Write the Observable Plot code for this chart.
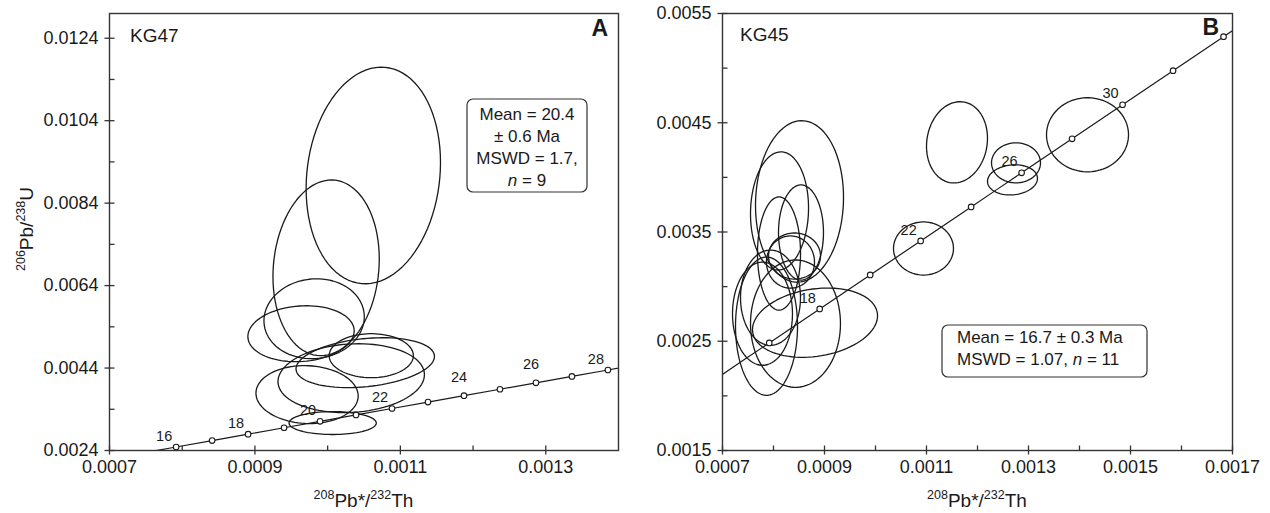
<!DOCTYPE html>
<html>
<head>
<meta charset="utf-8">
<script src="https://cdn.jsdelivr.net/npm/d3@7"></script>
<script src="https://cdn.jsdelivr.net/npm/@observablehq/plot@0.6"></script>
<style>
  html, body { margin: 0; padding: 0; background: #fff; }
  #wrap { display: flex; width: 1270px; height: 513px; }
  svg { display: block; }
</style>
</head>
<body>
<div id="wrap"></div>
<script>
// ---------- Concordia (Th–Pb vs U–Pb) reference points, ages in Ma ----------
const concAge = [14, 15, 16, 17, 18, 19, 20, 21, 22, 23, 24, 25, 26, 27, 28, 29, 30, 31, 32, 33, 34, 35];
const concTh  = [0.00069268, 0.00074216, 0.00079163, 0.00084111, 0.00089059, 0.00094007, 0.00098955,
                 0.00103904, 0.00108852, 0.00113800, 0.00118749, 0.00123698, 0.00128647, 0.00133596,
                 0.00138545, 0.00143494, 0.00148444, 0.00153393, 0.00158343, 0.00163293, 0.00168243, 0.00173193];
const concU   = [0.0021741, 0.0023296, 0.0024851, 0.0026406, 0.0027962, 0.0029517, 0.0031073, 0.0032629,
                 0.0034186, 0.0035742, 0.0037299, 0.0038856, 0.0040414, 0.0041971, 0.0043529, 0.0045087,
                 0.0046646, 0.0048204, 0.0049763, 0.0051322, 0.0052882, 0.0054441];

// Panel A (KG47) markers and labels
const aMarkerAges = [16, 17, 18, 19, 20, 21, 22, 23, 24, 25, 26, 27, 28];
const aLabelAges  = [16, 18, 20, 22, 28];
const aLabelAgesHigh = [24, 26];
// Panel B (KG45) markers and labels
const bMarkerAges = [16, 18, 20, 22, 24, 26, 28, 30, 32, 34];
const bLabelAges  = [18, 22, 26, 30];

// ---------- Error ellipses, panel A (KG47): centre, half-extent in x / y, correlation ----------
const aCx  = [0.0010628, 0.0009979, 0.0009814, 0.0009634, 0.0010600, 0.0010517, 0.0010324, 0.0009717, 0.0010069];
const aCy  = [0.009071,  0.006831,  0.005596,  0.005233,  0.004700,  0.004531,  0.004155,  0.003756,  0.003066];
const aSx  = [0.0000924, 0.0000731, 0.0000690, 0.0000731, 0.0000579, 0.0000952, 0.0001007, 0.0000703, 0.0000600];
const aSy  = [0.002627,  0.002131,  0.000969,  0.000678,  0.000533,  0.000605,  0.000835,  0.000702,  0.000278];
const aRho = [0.12, 0.10, 0.05, 0.10, 0.0, 0.25, 0.10, -0.05, 0.0];

// ---------- Error ellipses, panel B (KG45) ----------
const bCx  = [0.0008510, 0.0008118, 0.0008539, 0.0008108, 0.0008412, 0.0008333, 0.0007941, 0.0007863,
              0.0008431, 0.0008814, 0.0007784, 0.0011598, 0.0010941, 0.0012755, 0.0012686, 0.0014157];
const bCy  = [0.003780,  0.003693,  0.003495,  0.003303,  0.003280,  0.003225,  0.002899,  0.002638,
              0.002661,  0.002670,  0.002752,  0.004321,  0.003349,  0.004133,  0.003977,  0.004390];
const bSx  = [0.0000863, 0.0000569, 0.0000441, 0.0000422, 0.0000510, 0.0000471, 0.0000588, 0.0000608,
              0.0000882, 0.0001226, 0.0000588, 0.0000598, 0.0000588, 0.0000480, 0.0000490, 0.0000804];
const bSy  = [0.000739,  0.000541,  0.000436,  0.000518,  0.000211,  0.000239,  0.000436,  0.000633,
              0.000583,  0.000317,  0.000472,  0.000372,  0.000243,  0.000183,  0.000138,  0.000339];
const bRho = [0.05, 0.05, 0.0, 0.0, 0.0, 0.0, 0.0, 0.0, 0.0, 0.2, 0.0, 0.1, 0.0, 0.0, 0.1, 0.0];

// ---------- Axis ticks ----------
const aXMajor = [0.0007, 0.0009, 0.0011, 0.0013];
const aXMinor = [0.0008, 0.0010, 0.0012];
const aYMajor = [0.0024, 0.0044, 0.0064, 0.0084, 0.0104, 0.0124];
const aYMinor = [0.0034, 0.0054, 0.0074, 0.0094, 0.0114];
const bXMajor = [0.0007, 0.0009, 0.0011, 0.0013, 0.0015, 0.0017];
const bXMinor = [0.0008, 0.0010, 0.0012, 0.0014, 0.0016];
const bYMajor = [0.0015, 0.0025, 0.0035, 0.0045, 0.0055];
const bYMinor = [0.0020, 0.0030, 0.0040, 0.0050];

// ---------- Text ----------
const sampleA = "KG47", sampleB = "KG45";
const panelA = "A", panelB = "B";
const statsA = ["Mean = 20.4", "± 0.6 Ma", "MSWD = 1.7,", "n = 9"];
const statsB = ["Mean = 16.7 ± 0.3 Ma", "MSWD = 1.07, n = 11"];

// ---------- helpers ----------
const FONT = "'Liberation Sans', Arial, Helvetica, sans-serif";
const INK = "#1a1a1a";
const concRows = concAge.map((t, i) => ({t, x: concTh[i], y: concU[i]}));

function ellipseRows(cx, cy, sx, sy, rho) {
  const rows = [];
  const N = 90;
  cx.forEach((c, k) => {
    const s = Math.sqrt(1 - rho[k] * rho[k]);
    for (let j = 0; j < N; j++) {
      const th = (2 * Math.PI * j) / N;
      rows.push({id: k, x: c + sx[k] * Math.cos(th),
                 y: cy[k] + sy[k] * (rho[k] * Math.cos(th) + s * Math.sin(th))});
    }
  });
  return rows;
}

const tickCrossV = {draw(ctx) { ctx.moveTo(0, -5); ctx.lineTo(0, 4); }};
const tickInV    = {draw(ctx) { ctx.moveTo(0, 0);  ctx.lineTo(0, -5); }};
const tickCrossH = {draw(ctx) { ctx.moveTo(-5, 0); ctx.lineTo(5, 0); }};
const tickInH    = {draw(ctx) { ctx.moveTo(0, 0);  ctx.lineTo(5, 0); }};

function panel({width, marginLeft, marginRight, xDomain, yDomain, xMaj, xMin, yMaj, yMin,
                ell, markers, labels, labelsHigh}) {
  const fmt = d3.format(".4f");
  return Plot.plot({
    width, height: 513,
    marginLeft, marginRight, marginTop: 13, marginBottom: 63,
    style: {fontFamily: FONT, fontSize: "18px", color: INK, background: "white"},
    x: {domain: xDomain, axis: null},
    y: {domain: yDomain, axis: null},
    marks: [
      Plot.line(ell, {x: "x", y: "y", z: "id", curve: "linear-closed", stroke: INK, strokeWidth: 1.3, clip: true}),
      Plot.line(concRows, {x: "x", y: "y", stroke: INK, strokeWidth: 1.2, clip: true}),
      Plot.dot(concRows.filter(d => markers.includes(d.t)), {x: "x", y: "y", r: 2.8, fill: "white", stroke: INK, strokeWidth: 1.1}),
      Plot.text(concRows.filter(d => labels.includes(d.t)), {x: "x", y: "y", text: d => String(d.t), dx: -12, dy: -11, fontSize: 14.5, fill: INK}),
      Plot.text(concRows.filter(d => labelsHigh.includes(d.t)), {x: "x", y: "y", text: d => String(d.t), dx: -5, dy: -18, fontSize: 14.5, fill: INK}),
      Plot.frame({stroke: "#333", strokeWidth: 1.4}),
      Plot.dot(xMaj, {x: d => d, frameAnchor: "bottom", symbol: tickCrossV, stroke: "#333", strokeWidth: 1.3, fill: "none"}),
      Plot.dot(xMin, {x: d => d, frameAnchor: "bottom", symbol: tickInV, stroke: "#333", strokeWidth: 1.3, fill: "none"}),
      Plot.dot(yMaj, {y: d => d, frameAnchor: "left", symbol: tickCrossH, stroke: "#333", strokeWidth: 1.3, fill: "none"}),
      Plot.dot(yMin, {y: d => d, frameAnchor: "left", symbol: tickInH, stroke: "#333", strokeWidth: 1.3, fill: "none"}),
      Plot.axisX({ticks: xMaj, tickSize: 0, tickPadding: 10, tickFormat: fmt, label: null, fontSize: 18, fill: INK}),
      Plot.axisY({ticks: yMaj, tickSize: 0, tickPadding: 11, tickFormat: fmt, label: null, fontSize: 18, fill: INK})
    ]
  });
}

const wrap = document.getElementById("wrap");

const svgA = panel({
  width: 640, marginLeft: 109, marginRight: 22,
  xDomain: [0.0007, 0.0014], yDomain: [0.0024, 0.0130],
  xMaj: aXMajor, xMin: aXMinor, yMaj: aYMajor, yMin: aYMinor,
  ell: ellipseRows(aCx, aCy, aSx, aSy, aRho), markers: aMarkerAges,
  labels: aLabelAges, labelsHigh: aLabelAgesHigh
});
const svgB = panel({
  width: 630, marginLeft: 82, marginRight: 38,
  xDomain: [0.0007, 0.0017], yDomain: [0.0015, 0.0055],
  xMaj: bXMajor, xMin: bXMinor, yMaj: bYMajor, yMin: bYMinor,
  ell: ellipseRows(bCx, bCy, bSx, bSy, bRho), markers: bMarkerAges,
  labels: bLabelAges, labelsHigh: []
});
wrap.appendChild(svgA);
wrap.appendChild(svgB);

// ---------- annotations ----------
function addText(svg, x, y, str, opts = {}) {
  return d3.select(svg).append("text")
    .attr("x", x).attr("y", y)
    .attr("font-family", FONT)
    .attr("font-size", opts.size || 17)
    .attr("font-weight", opts.weight || "normal")
    .attr("text-anchor", opts.anchor || "start")
    .attr("fill", INK)
    .text(str);
}
function addXTitle(svg, cx) {
  const t = d3.select(svg).append("text").attr("x", cx).attr("y", 507)
    .attr("font-family", FONT).attr("font-size", 19).attr("text-anchor", "middle").attr("fill", INK);
  t.append("tspan").attr("font-size", 12.5).attr("dy", -8).text("208");
  t.append("tspan").attr("dy", 8).text("Pb*/");
  t.append("tspan").attr("font-size", 12.5).attr("dy", -8).text("232");
  t.append("tspan").attr("dy", 8).text("Th");
}
function addStats(svg, bx, by, bw, bh, lines, anchor, tx, y0, lh) {
  const g = d3.select(svg).append("g");
  g.append("rect").attr("x", bx).attr("y", by).attr("width", bw).attr("height", bh)
    .attr("rx", 6).attr("fill", "white").attr("stroke", "#333").attr("stroke-width", 1.2);
  lines.forEach((ln, i) => {
    const t = g.append("text").attr("x", tx).attr("y", y0 + i * lh)
      .attr("font-family", FONT).attr("font-size", 17).attr("text-anchor", anchor).attr("fill", INK);
    const parts = ln.split(/(\bn\b)/);
    parts.forEach(p => {
      if (p === "") return;
      const s = t.append("tspan").text(p);
      if (p === "n") s.attr("font-style", "italic");
    });
  });
}

// Panel A
addText(svgA, 130, 42, sampleA, {size: 19});
addText(svgA, 608, 36, panelA, {size: 23, weight: "bold", anchor: "end"});
addStats(svgA, 467, 99, 120, 93, statsA, "middle", 527, 120, 22);
addXTitle(svgA, 363.5);
{
  const t = d3.select(svgA).append("text").attr("transform", "translate(33,229) rotate(-90)")
    .attr("font-family", FONT).attr("font-size", 19).attr("text-anchor", "middle").attr("fill", INK);
  t.append("tspan").attr("font-size", 12.5).attr("dy", -8).text("206");
  t.append("tspan").attr("dy", 8).text("Pb/");
  t.append("tspan").attr("font-size", 12.5).attr("dy", -8).text("238");
  t.append("tspan").attr("dy", 8).text("U");
}

// Panel B
addText(svgB, 100, 41, sampleB, {size: 19});
addText(svgB, 579, 35, panelB, {size: 23, weight: "bold", anchor: "end"});
addStats(svgB, 302, 325, 205, 52, statsB, "start", 317, 343, 22);
addXTitle(svgB, 337);
</script>
</body>
</html>
